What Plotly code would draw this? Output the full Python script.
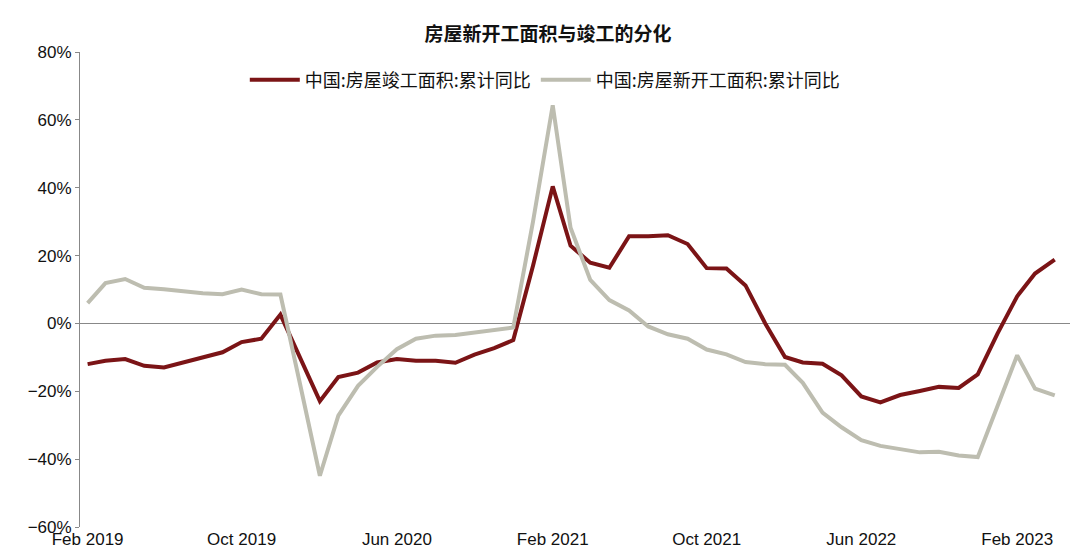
import plotly.graph_objects as go
import pandas as pd

dates = pd.date_range("2019-02-01", "2023-04-01", freq="MS")
completion = [-12,-11,-10.5,-12.5,-13,-11.5,-10,-8.5,-5.5,-4.5,2.6,-10,-22.9,-15.8,-14.5,-11.5,-10.5,-11,-11,-11.6,-9.2,-7.3,-4.9,17,40.4,22.9,17.9,16.4,25.7,25.7,26,23.4,16.3,16.2,11.2,0,-9.9,-11.5,-11.9,-15.3,-21.5,-23.3,-21.1,-19.9,-18.7,-19,-15,-3,8,14.7,18.8]
starts = [6,11.9,13.1,10.5,10.1,9.5,8.9,8.6,10,8.6,8.5,-18,-44.9,-27.2,-18.4,-12.8,-7.6,-4.5,-3.6,-3.4,-2.7,-2,-1.2,30,64.3,28.2,12.8,6.9,3.8,-0.9,-3.2,-4.5,-7.7,-9.1,-11.4,-12,-12.2,-17.5,-26.3,-30.6,-34.4,-36.1,-37.2,-38,-37.8,-38.9,-39.4,-24,-9.4,-19.2,-21.2]
tick_dates = ["2019-02-01","2019-10-01","2020-06-01","2021-02-01","2021-10-01","2022-06-01","2023-02-01"]
tick_text = ["Feb 2019","Oct 2019","Jun 2020","Feb 2021","Oct 2021","Jun 2022","Feb 2023"]

fig = go.Figure()
fig.add_trace(go.Scatter(x=dates, y=completion, mode="lines", name="中国:房屋竣工面积:累计同比",
                         line=dict(color="#7B1416", width=4)))
fig.add_trace(go.Scatter(x=dates, y=starts, mode="lines", name="中国:房屋新开工面积:累计同比",
                         line=dict(color="#BDBDB0", width=4)))
fig.update_layout(
    width=1080, height=559, plot_bgcolor="white", paper_bgcolor="white",
    font=dict(family="Noto Sans CJK SC, Arial", size=18, color="#111"),
    title=dict(text="<b>房屋新开工面积与竣工的分化</b>", x=0.5, y=0.965, xanchor="center", font=dict(size=19)),
    margin=dict(l=72, r=18, t=44, b=40),
    legend=dict(orientation="h", x=0.47, xanchor="center", y=0.98, yanchor="top", font=dict(size=18),
                bgcolor="rgba(0,0,0,0)", itemwidth=50),
    showlegend=True,
)
fig.update_xaxes(tickvals=tick_dates, ticktext=tick_text, range=["2019-01-20","2023-04-25"],
                 showgrid=False, showline=False, ticks="", tickfont=dict(size=17, family="Arial"))
fig.update_yaxes(range=[-60, 80], dtick=20, ticksuffix="%", showgrid=False, zeroline=True,
                 zerolinecolor="#888", zerolinewidth=1, showline=True, linecolor="#888",
                 ticks="outside", ticklen=4, tickcolor="#888", tickfont=dict(size=17, family="Arial"))
fig.write_html("out.html")
